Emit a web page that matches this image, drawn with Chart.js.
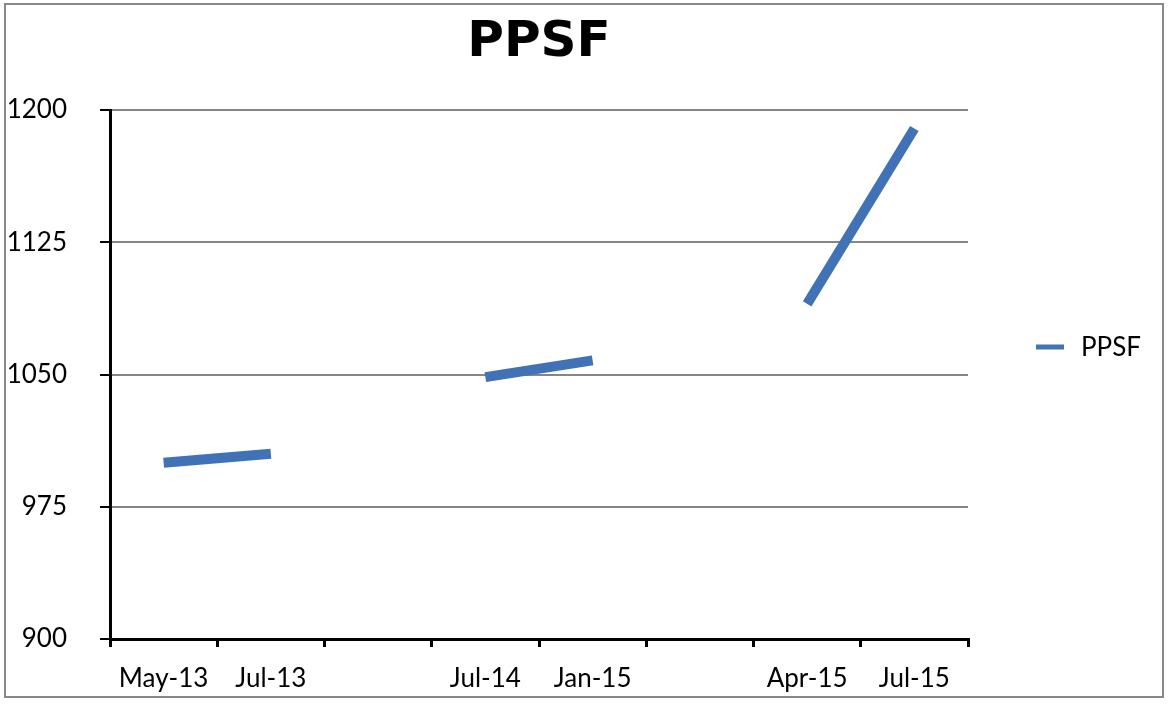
<!DOCTYPE html>
<html>
<head>
<meta charset="utf-8">
<script src="https://cdn.jsdelivr.net/npm/chart.js@4/dist/chart.umd.min.js"></script>
<style>
  html, body { margin: 0; padding: 0; background: #fff; }
  canvas { display: block; }
</style>
</head>
<body>
<canvas id="c" width="1169" height="705"></canvas>
<script>
const categories = ['May-13', 'Jul-13', '', 'Jul-14', 'Jan-15', '', 'Apr-15', 'Jul-15'];
const ppsfValues = [1000, 1005, null, 1048.5, 1058, null, 1090, 1189.5];
const yTicks = [900, 975, 1050, 1125, 1200];
const seriesName = 'PPSF';
const chartTitle = 'PPSF';

const LINE_COLOR = '#4172B6';
const LABEL_FONT = { family: 'Lato', size: 26 };

const frameAndLegend = {
  id: 'frameAndLegend',
  beforeDraw(chart) {
    const ctx = chart.ctx;
    ctx.save();
    ctx.fillStyle = '#fff';
    ctx.fillRect(0, 0, chart.width, chart.height);
    ctx.restore();
  },
  afterDraw(chart) {
    const ctx = chart.ctx;
    ctx.save();
    ctx.strokeStyle = '#888888';
    ctx.lineWidth = 2;
    ctx.strokeRect(5, 4, 1158, 693);
    // legend
    const ds = chart.data.datasets[0];
    const lx = chart.chartArea.right + 68;
    const ly = 347;
    ctx.strokeStyle = ds.borderColor;
    ctx.lineWidth = 5;
    ctx.lineCap = 'butt';
    ctx.beginPath();
    ctx.moveTo(lx, ly);
    ctx.lineTo(lx + 28, ly);
    ctx.stroke();
    ctx.fillStyle = '#000';
    ctx.font = LABEL_FONT.size + 'px ' + LABEL_FONT.family;
    ctx.textBaseline = 'middle';
    ctx.textAlign = 'left';
    ctx.fillText(ds.label, lx + 45, ly + 1);
    ctx.restore();
  }
};

new Chart(document.getElementById('c'), {
  type: 'line',
  data: {
    labels: categories,
    datasets: [{
      label: seriesName,
      data: ppsfValues,
      borderColor: LINE_COLOR,
      backgroundColor: LINE_COLOR,
      borderWidth: 10,
      borderCapStyle: 'butt',
      pointRadius: 0,
      pointHoverRadius: 0,
      spanGaps: false,
      tension: 0
    }]
  },
  options: {
    responsive: false,
    animation: false,
    layout: { padding: { left: 0, right: 201, top: 0, bottom: 0 } },
    plugins: {
      legend: { display: false },
      tooltip: { enabled: false },
      title: {
        display: true,
        text: chartTitle,
        fullSize: false,
        color: '#000',
        font: { family: 'DejaVu Sans', size: 50, weight: 'bold', lineHeight: 1.2 },
        padding: { top: 13, bottom: 37 }
      }
    },
    scales: {
      x: {
        type: 'category',
        offset: true,
        afterFit(scale) { scale.height = 66; },
        grid: {
          offset: true,
          drawOnChartArea: false,
          drawTicks: true,
          tickLength: 8,
          color: '#000',
          lineWidth: 3
        },
        border: { color: '#000', width: 3 },
        ticks: {
          color: '#000',
          font: LABEL_FONT,
          padding: 16,
          maxRotation: 0,
          autoSkip: false
        }
      },
      y: {
        min: yTicks[0],
        max: yTicks[yTicks.length - 1],
        afterFit(scale) { scale.width = 110; },
        afterBuildTicks(scale) { scale.ticks = yTicks.map(v => ({ value: v })); },
        grid: {
          color: '#868686',
          lineWidth: 2,
          tickColor: '#000',
          tickLength: 10,
          drawTicks: true
        },
        border: { color: '#000', width: 3 },
        ticks: {
          color: '#000',
          font: LABEL_FONT,
          padding: 33,
          callback: (v) => String(v)
        }
      }
    }
  },
  plugins: [frameAndLegend]
});
</script>
</body>
</html>
